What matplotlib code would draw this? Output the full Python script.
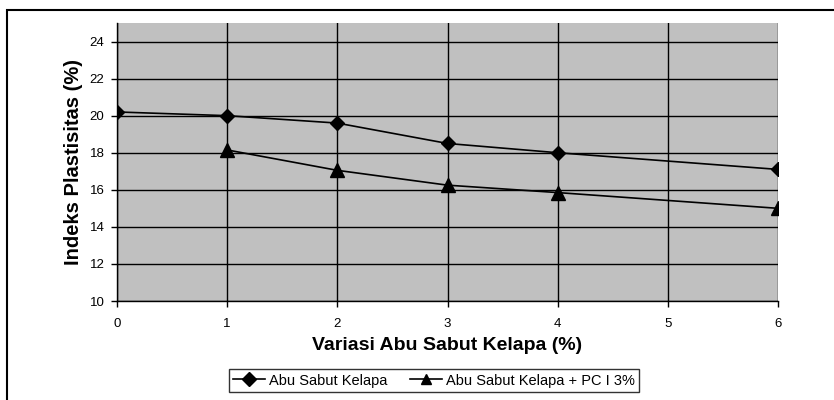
import matplotlib
matplotlib.use("Agg")
import matplotlib.pyplot as plt
from matplotlib.patches import Rectangle

plt.rcParams['font.family'] = ['Liberation Sans', 'DejaVu Sans']

x1 = [0, 1, 2, 3, 4, 6]
y1 = [20.2, 20.0, 19.6, 18.5, 18.0, 17.1]
x2 = [1, 2, 3, 4, 6]
y2 = [18.15, 17.05, 16.25, 15.85, 15.0]
label1 = "Abu Sabut Kelapa"
label2 = "Abu Sabut Kelapa + PC I 3%"
xticks = [0, 1, 2, 3, 4, 5, 6]
yticks = [10, 12, 14, 16, 18, 20, 22, 24]

W, H = 834, 400
fig = plt.figure(figsize=(W/100, H/100), dpi=100)
ax = fig.add_axes([117/W, 1-301/H, (778-117)/W, (301-23)/H])
ax.set_facecolor('#c0c0c0')

ax.plot(x1, y1, color='black', lw=1.2, marker='D', ms=7.5, label=label1, zorder=3)
ax.plot(x2, y2, color='black', lw=1.2, marker='^', ms=10, label=label2, zorder=3)

ax.set_xlim(0, 6)
ax.set_ylim(10, 25)
ax.set_xticks(xticks)
ax.set_yticks(yticks)
ax.grid(True, color='black', lw=1.0, zorder=1)
ax.set_axisbelow(True)
for s in ['top', 'right']:
    ax.spines[s].set_visible(False)
for s in ['left', 'bottom']:
    ax.spines[s].set_linewidth(1.0)
ax.tick_params(direction='out', length=4, width=1, labelsize=9.5)
ax.tick_params(axis='y', pad=5)
ax.tick_params(axis='x', pad=8)

ax.set_xlabel("Variasi Abu Sabut Kelapa (%)", fontsize=14, fontweight='bold', labelpad=5)
ax.set_ylabel("Indeks Plastisitas (%)", fontsize=14.5, fontweight='bold', labelpad=5)

leg = fig.legend(loc='center', bbox_to_anchor=(434/W, 1-380.5/H), ncol=2, frameon=True,
                 fancybox=False, edgecolor='black', fontsize=10.5, handlelength=2.2,
                 columnspacing=1.5, borderpad=0.3, handletextpad=0.3)
leg.get_frame().set_linewidth(1.0)
for h in leg.legend_handles:
    h.set_markersize(7)

fig.patches.append(Rectangle((7/W, -0.1), 1.2, 1-10/H + 0.1, transform=fig.transFigure,
                             fill=False, edgecolor='black', lw=1.5))

fig.savefig("out.png", dpi=100)
